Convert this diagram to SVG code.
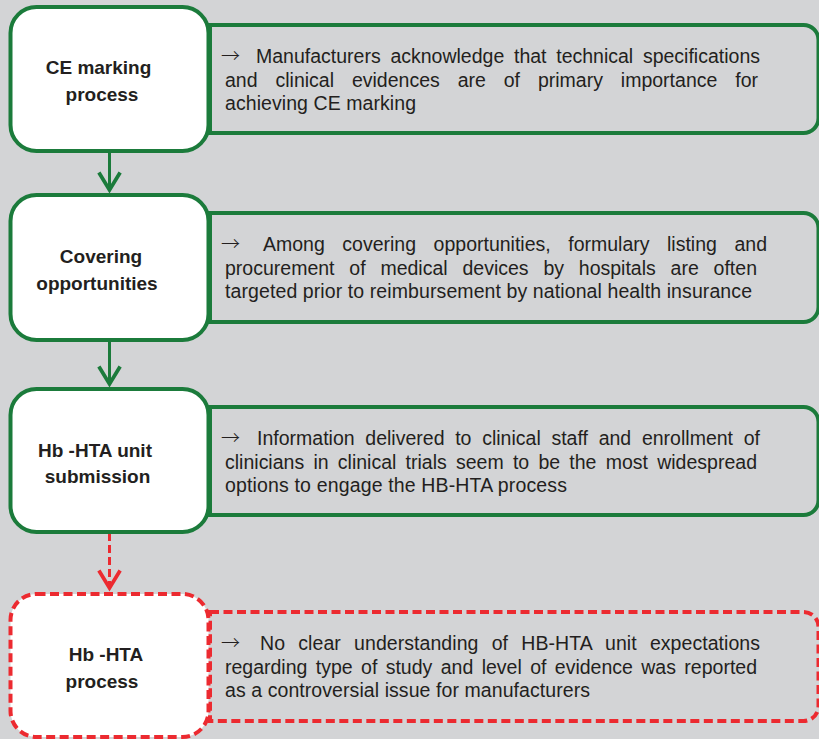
<svg xmlns="http://www.w3.org/2000/svg" width="819" height="739" viewBox="0 0 819 739">
  <defs>
    <style>
      .bg { fill: #d3d4d6; }
      .step { fill: #ffffff; stroke: #1b7b3b; stroke-width: 4; }
      .note { fill: #d3d4d6; stroke: #1b7b3b; stroke-width: 4; }
      .step-open { fill: #ffffff; stroke: #ec2a30; stroke-width: 4; stroke-dasharray: 9 4.5; }
      .note-open { fill: #d3d4d6; stroke: #ec2a30; stroke-width: 4; stroke-dasharray: 9 4.5; }
      .label { font-family: "Liberation Sans", Arial, Helvetica, sans-serif; font-weight: bold; font-size: 19px; fill: #231f20; text-anchor: middle; }
      .body { font-family: "Liberation Sans", Arial, Helvetica, sans-serif; font-size: 19.5px; fill: #231f20; }
      .bullet { font-family: "Noto Sans CJK SC", "DejaVu Sans", sans-serif; font-size: 19px; font-weight: 300; fill: #231f20; }
      .link { fill: none; stroke: #1b7b3b; stroke-width: 3; }
      .link-open { fill: none; stroke: #ec2a30; stroke-width: 3; stroke-dasharray: 8 4; }
    </style>
    <marker id="chev-green" markerUnits="userSpaceOnUse" markerWidth="30" markerHeight="30" viewBox="-18 -12 22 24" refX="0" refY="0" orient="auto">
      <path d="M-14,-8.5 L0,0 L-14,8.5" fill="none" stroke="#1b7b3b" stroke-width="3" stroke-linejoin="miter"/>
    </marker>
    <marker id="chev-red" markerUnits="userSpaceOnUse" markerWidth="30" markerHeight="30" viewBox="-18 -12 22 24" refX="0" refY="0" orient="auto">
      <path d="M-14,-8.5 L0,0 L-14,8.5" fill="none" stroke="#ec2a30" stroke-width="3" stroke-linejoin="miter"/>
    </marker>
  </defs>

  <rect class="bg" x="0" y="0" width="819" height="739"/>

  <!-- connectors between the steps -->
  <g id="connectors">
    <line class="link" x1="109.5" y1="152" x2="109.5" y2="190" marker-end="url(#chev-green)"/>
    <line class="link" x1="109.5" y1="341" x2="109.5" y2="384" marker-end="url(#chev-green)"/>
    <line class="link-open" x1="109.5" y1="533" x2="109.5" y2="588" marker-end="url(#chev-red)"/>
  </g>

  <!-- step 1 -->
  <g id="ce-note">
    <path class="note" d="M210,25 H803.5 A15,15 0 0 1 818.5,40 V118 A15,15 0 0 1 803.5,133 H210 Z"/>
    <text class="bullet" x="221" y="63">→</text>
    <text class="body" x="256" y="63" textLength="504" lengthAdjust="spacing" word-spacing="4.3">Manufacturers acknowledge that technical specifications</text>
    <text class="body" x="225" y="87" textLength="533" lengthAdjust="spacing" word-spacing="12.5">and clinical evidences are of primary importance for</text>
    <text class="body" x="225" y="110" textLength="191" lengthAdjust="spacing">achieving CE marking</text>
  </g>
  <g id="ce-marking">
    <rect class="step" x="10.5" y="7" width="198" height="144" rx="26" ry="26"/>
    <text class="label" x="98.5" y="74">CE marking</text>
    <text class="label" x="102" y="101">process</text>
  </g>

  <!-- step 2 -->
  <g id="covering-note">
    <path class="note" d="M210,213 H803.5 A15,15 0 0 1 818.5,228 V307 A15,15 0 0 1 803.5,322 H210 Z"/>
    <text class="bullet" x="221" y="251">→</text>
    <text class="body" x="263" y="251" textLength="504" lengthAdjust="spacing" word-spacing="12.1">Among covering opportunities, formulary listing and</text>
    <text class="body" x="225" y="275" textLength="532" lengthAdjust="spacing" word-spacing="9.4">procurement of medical devices by hospitals are often</text>
    <text class="body" x="225" y="298" textLength="527" lengthAdjust="spacing">targeted prior to reimbursement by national health insurance</text>
  </g>
  <g id="covering">
    <rect class="step" x="10.5" y="195" width="198" height="145" rx="26" ry="26"/>
    <text class="label" x="101" y="263">Covering</text>
    <text class="label" x="97" y="289.5">opportunities</text>
  </g>

  <!-- step 3 -->
  <g id="submission-note">
    <path class="note" d="M210,407 H803.5 A15,15 0 0 1 818.5,422 V500 A15,15 0 0 1 803.5,515 H210 Z"/>
    <text class="bullet" x="221" y="445">→</text>
    <text class="body" x="257" y="445" textLength="503" lengthAdjust="spacing" word-spacing="5.3">Information delivered to clinical staff and enrollment of</text>
    <text class="body" x="225" y="469" textLength="532" lengthAdjust="spacing" word-spacing="3.8">clinicians in clinical trials seem to be the most widespread</text>
    <text class="body" x="225" y="492" textLength="342" lengthAdjust="spacing">options to engage the HB-HTA process</text>
  </g>
  <g id="submission">
    <rect class="step" x="10.5" y="389" width="198" height="143" rx="26" ry="26"/>
    <text class="label" x="95" y="456.5">Hb -HTA unit</text>
    <text class="label" x="97.5" y="483">submission</text>
  </g>

  <!-- step 4 (not yet established) -->
  <g id="process-note">
    <path class="note-open" d="M210,612 H803.5 A15,15 0 0 1 818.5,627 V706 A15,15 0 0 1 803.5,721 H210 Z"/>
    <text class="bullet" x="221" y="650">→</text>
    <text class="body" x="260" y="650" textLength="500" lengthAdjust="spacing" word-spacing="7.8">No clear understanding of HB-HTA unit expectations</text>
    <text class="body" x="225" y="674" textLength="532" lengthAdjust="spacing" word-spacing="3">regarding type of study and level of evidence was reported</text>
    <text class="body" x="225" y="697" textLength="365" lengthAdjust="spacing">as a controversial issue for manufacturers</text>
  </g>
  <g id="process">
    <rect class="step-open" x="10.5" y="594" width="198" height="143" rx="26" ry="26"/>
    <text class="label" x="106" y="661">Hb -HTA</text>
    <text class="label" x="102" y="688">process</text>
  </g>
</svg>
